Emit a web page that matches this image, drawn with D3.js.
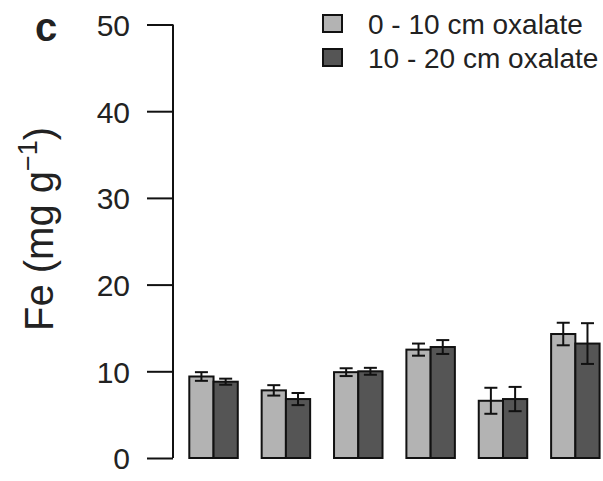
<!DOCTYPE html>
<html>
<head>
<meta charset="utf-8">
<script src="https://cdn.jsdelivr.net/npm/d3@7"></script>
<style>
  body { margin: 0; background: #fff; }
  svg text { font-family: "Liberation Sans", Arial, sans-serif; fill: #222; }
</style>
</head>
<body>
<svg id="chart" width="603" height="481"></svg>
<script>
// six sites, two depths
var sites = ["s1", "s2", "s3", "s4", "s5", "s6"];
var seriesNames = ["0 - 10 cm oxalate", "10 - 20 cm oxalate"];
var shallow = [9.4, 7.8, 9.9, 12.5, 6.6, 14.3];
var shallowErr = [0.5, 0.6, 0.45, 0.7, 1.5, 1.3];
var deep = [8.8, 6.8, 10.0, 12.8, 6.8, 13.2];
var deepErr = [0.35, 0.7, 0.4, 0.8, 1.4, 2.35];
var yTicks = [0, 10, 20, 30, 40, 50];

var colors = ["#b3b3b3", "#555555"];

var svg = d3.select("#chart");

var rows = sites.map(function(s, i) {
  return {
    site: s,
    vals: [
      { k: 0, v: shallow[i], e: shallowErr[i] },
      { k: 1, v: deep[i], e: deepErr[i] }
    ]
  };
});

var y = d3.scaleLinear().domain([0, 50]).range([458, 24.5]);

var x0 = d3.scaleBand()
  .domain(sites)
  .range([189.3, 599.6])
  .paddingInner(0.33)
  .paddingOuter(0);

var x1 = d3.scaleBand()
  .domain([0, 1])
  .range([0, x0.bandwidth()]);

// y axis with long ticks
var yAxis = d3.axisLeft(y).tickValues(yTicks).tickSize(26).tickPadding(17);
var ga = svg.append("g")
  .attr("transform", "translate(173,0)")
  .call(yAxis);
ga.select(".domain").attr("d", "M0," + y(0) + "V" + y(50)).attr("stroke", "#111").attr("stroke-width", 2);
ga.selectAll(".tick line").attr("stroke", "#111").attr("stroke-width", 2);
ga.selectAll(".tick text").style("font-size", "30px").attr("fill", "#222").attr("dy", "0.36em");

// y label
svg.append("text")
  .attr("transform", "translate(53,331) rotate(-90)")
  .style("font-size", "40px")
  .html('Fe (mg g<tspan dy="-16" style="font-size:27px">\u22121</tspan><tspan dy="16">)</tspan>');

// panel letter
svg.append("text")
  .attr("x", 35)
  .attr("y", 41)
  .style("font-size", "40px")
  .style("font-weight", "bold")
  .text("c");

var groups = svg.append("g").selectAll("g")
  .data(rows)
  .enter().append("g")
  .attr("transform", function(d) { return "translate(" + x0(d.site) + ",0)"; });

groups.selectAll("rect")
  .data(function(d) { return d.vals; })
  .enter().append("rect")
  .attr("x", function(d) { return x1(d.k); })
  .attr("y", function(d) { return y(d.v); })
  .attr("width", x1.bandwidth())
  .attr("height", function(d) { return y(0) - y(d.v); })
  .attr("fill", function(d) { return colors[d.k]; })
  .attr("stroke", "#111")
  .attr("stroke-width", 2);

// error bars
var cap = 6.5;
var err = groups.selectAll("g.err")
  .data(function(d) { return d.vals; })
  .enter().append("g")
  .attr("class", "err")
  .attr("stroke", "#111")
  .attr("stroke-width", 2);

err.append("line")
  .attr("x1", function(d) { return x1(d.k) + x1.bandwidth() / 2; })
  .attr("x2", function(d) { return x1(d.k) + x1.bandwidth() / 2; })
  .attr("y1", function(d) { return y(d.v - d.e); })
  .attr("y2", function(d) { return y(d.v + d.e); });

[-1, 1].forEach(function(sgn) {
  err.append("line")
    .attr("x1", function(d) { return x1(d.k) + x1.bandwidth() / 2 - cap; })
    .attr("x2", function(d) { return x1(d.k) + x1.bandwidth() / 2 + cap; })
    .attr("y1", function(d) { return y(d.v + sgn * d.e); })
    .attr("y2", function(d) { return y(d.v + sgn * d.e); });
});

// legend
var leg = svg.append("g").selectAll("g")
  .data(seriesNames)
  .enter().append("g")
  .attr("transform", function(d, i) { return "translate(323," + (15 + i * 34) + ")"; });

leg.append("rect")
  .attr("width", 19)
  .attr("height", 17)
  .attr("fill", function(d, i) { return colors[i]; })
  .attr("stroke", "#111")
  .attr("stroke-width", 2);

leg.append("text")
  .attr("x", 45)
  .attr("y", 19)
  .style("font-size", "28px")
  .text(function(d) { return d; });
</script>
</body>
</html>
